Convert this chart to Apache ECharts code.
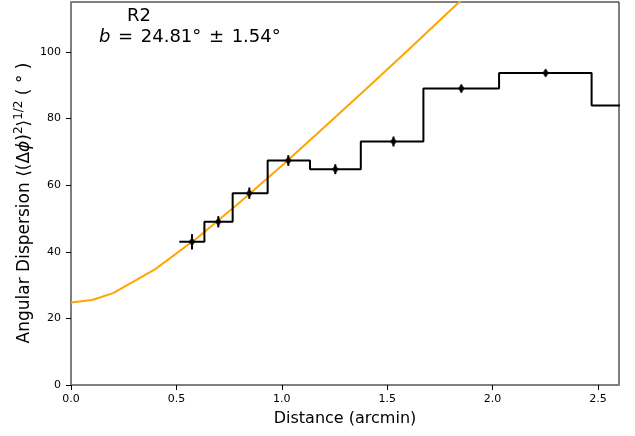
<!DOCTYPE html>
<html><head><meta charset="utf-8">
<script src="https://cdn.jsdelivr.net/npm/echarts@6/dist/echarts.min.js"></script>
<style>html,body{margin:0;padding:0;background:#fff}#c{width:635px;height:436px}</style>
</head><body><div id="c"></div>
<script>
// Step histogram: bin edges and levels
const binEdges = [0.514, 0.633, 0.767, 0.933, 1.134, 1.375, 1.672, 2.031, 2.470, 2.700];
const binValues = [43.0, 49.0, 57.6, 67.4, 64.8, 73.1, 89.0, 93.7, 83.9];
// Measured points with error bars
const pointX = [0.574, 0.699, 0.846, 1.031, 1.254, 1.530, 1.852, 2.252];
const pointY = [43.0, 49.0, 57.6, 67.4, 64.8, 73.1, 89.0, 93.7];
const pointErr = [2.3, 1.7, 1.7, 1.6, 1.5, 1.5, 1.2, 1.0];
// Fitted curve
const fitX = [0, 0.1, 0.2, 0.4, 0.6, 0.8, 1.0, 1.2, 1.4, 1.6, 1.8, 2.0];
const fitY = [24.8, 25.5, 27.6, 34.8, 44.2, 54.8, 65.8, 77.3, 88.9, 100.6, 112.5, 124.3];
// Ticks
const xTicks = [0, 0.5, 1.0, 1.5, 2.0, 2.5];
const yTicks = [0, 20, 40, 60, 80, 100];

const FONT = 'DejaVu Sans';
const stepData = [];
for (let i = 0; i < binValues.length; i++) {
  stepData.push([binEdges[i], binValues[i]]);
  stepData.push([binEdges[i + 1], binValues[i]]);
}
const fitData = fitX.map((x, i) => [x, fitY[i]]);
const ptData = pointX.map((x, i) => [x, pointY[i]]);
const errData = pointX.map((x, i) => [x, pointY[i] - pointErr[i], pointY[i] + pointErr[i]]);

const chart = echarts.init(document.getElementById('c'), null, {renderer: 'canvas'});
chart.setOption({
  animation: false,
  backgroundColor: '#fff',
  grid: {left: 71, right: 16, top: 2, bottom: 51, show: true, borderColor: '#000', borderWidth: 1},
  xAxis: {
    type: 'value', min: 0, max: 2.6,
    name: 'Distance (arcmin)', nameLocation: 'middle', nameGap: 26,
    nameTextStyle: {fontFamily: FONT, fontSize: 16, color: '#000'},
    axisLine: {show: true, lineStyle: {color: '#7f7f7f', width: 2}},
    axisTick: {show: true, length: 5, lineStyle: {color: '#000'}, customValues: xTicks},
    axisLabel: {customValues: xTicks, formatter: v => v.toFixed(1), fontFamily: FONT, fontSize: 11, color: '#000', margin: 9},
    splitLine: {show: false}
  },
  yAxis: {
    type: 'value', min: 0, max: 115,
    axisLine: {show: true, lineStyle: {color: '#7f7f7f', width: 2}},
    axisTick: {show: true, length: 5, lineStyle: {color: '#000'}, customValues: yTicks},
    axisLabel: {customValues: yTicks, fontFamily: FONT, fontSize: 11, color: '#000', margin: 10},
    splitLine: {show: false}
  },
  graphic: [
    {type: 'text', x: 139, y: 16, z: 100, style: {text: 'R2', fontFamily: FONT, fontSize: 18, fill: '#000', align: 'center', verticalAlign: 'middle'}},
    {type: 'text', x: 99, y: 37, z: 100, style: {
      text: '{i|b}{sp| }={sp| }24.81°{sp| }±{sp| }1.54°', fontFamily: FONT, fontSize: 18, fill: '#000', align: 'left', verticalAlign: 'middle',
      rich: {
        i: {fontFamily: FONT, fontSize: 18, fontStyle: 'italic', fill: '#000'},
        sp: {fontFamily: FONT, fontSize: 24, fill: '#000'}
      }
    }},
    {type: 'text', x: 25, y: 203, rotation: Math.PI / 2, z: 100, style: {
      text: '{m|Angular Dispersion ⟨(Δ}{i|ϕ}{m|)}{s|2}{m|⟩}{s|1/2}{m| ( ° )}',
      fontFamily: FONT, fontSize: 17, fill: '#000', align: 'center', verticalAlign: 'middle',
      rich: {
        m: {fontFamily: FONT, fontSize: 17, fill: '#000', lineHeight: 24},
        i: {fontFamily: FONT, fontSize: 17, fontStyle: 'italic', fill: '#000', lineHeight: 24},
        s: {fontFamily: FONT, fontSize: 12, fill: '#000', lineHeight: 15, verticalAlign: 'top'}
      }
    }}
  ],
  series: [
    {type: 'line', data: fitData, showSymbol: false, symbol: 'none', lineStyle: {color: '#FFA500', width: 2}, z: 2, clip: true},
    {type: 'line', data: stepData, showSymbol: false, symbol: 'none', lineStyle: {color: '#000', width: 2}, z: 3, clip: true},
    {type: 'custom', data: errData, z: 4, clip: true,
      renderItem: (params, api) => {
        const p1 = api.coord([api.value(0), api.value(1)]);
        const p2 = api.coord([api.value(0), api.value(2)]);
        return {type: 'line', shape: {x1: p1[0], y1: p1[1], x2: p2[0], y2: p2[1]}, style: {stroke: '#000', lineWidth: 2}};
      }
    },
    {type: 'scatter', data: ptData, symbol: 'diamond', symbolSize: [7, 9], itemStyle: {color: '#000'}, z: 5}
  ]
});
</script></body></html>
